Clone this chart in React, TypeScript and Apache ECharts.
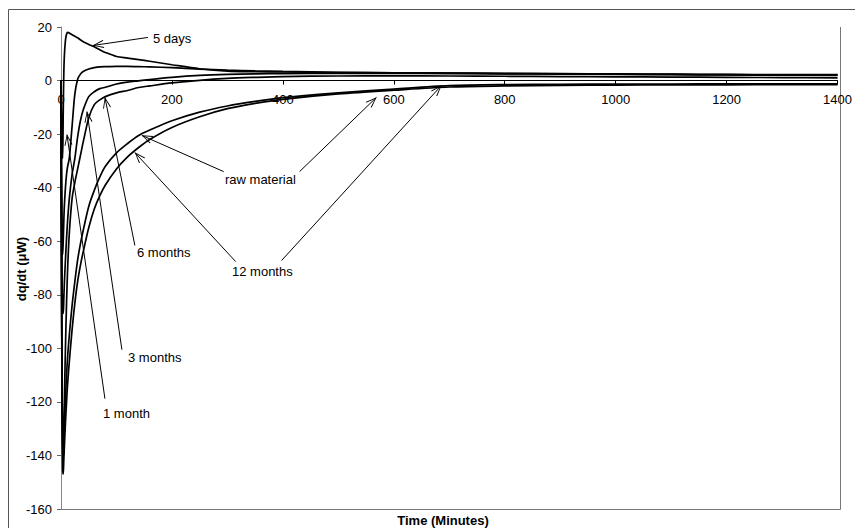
import React, { useEffect, useRef } from 'react';
import * as echarts from 'echarts';

// Time (minutes) shared by all curves
const TIME = [0, 1, 2, 3, 4, 5, 6, 8, 10, 12, 15, 20, 25, 30, 35, 40, 50, 60, 70, 80, 100, 120, 140, 160, 200, 250, 300, 350, 400, 500, 600, 700, 800, 900, 1000, 1100, 1200, 1300, 1400];

const FIVE_DAYS = [0, -15, -27, -29, -12, 2, 9, 15, 17.3, 18, 17.8, 17.1, 16.5, 16, 15.2, 14.5, 13.5, 12.6, 11.5, 10.5, 9, 8.4, 7.8, 7.2, 5.9, 4.4, 3.5, 3.3, 3.2, 3.0, 2.9, 2.8, 2.7, 2.6, 2.5, 2.4, 2.3, 2.2, 2.2];
const ONE_MONTH = [0, -40, -60, -65, -60, -53, -47, -40, -35, -32, -29, -17, -5, 0.5, 2.4, 3.4, 4.3, 4.8, 5.1, 5.2, 5.3, 5.3, 5.2, 5.1, 4.8, 4.3, 3.9, 3.6, 3.4, 3.1, 2.9, 2.8, 2.6, 2.5, 2.4, 2.3, 2.2, 2.1, 2.1];
const THREE_MONTHS = [0, -50, -78, -86, -87, -82, -76, -67, -59, -52, -44, -35, -29, -21, -15, -11, -6, -4.2, -3, -2.5, -1.3, -0.6, -0.1, 0.4, 1.2, 1.9, 2.3, 2.5, 2.6, 2.7, 2.7, 2.6, 2.5, 2.4, 2.3, 2.2, 2.1, 2.0, 1.9];
const SIX_MONTHS = [0, -70, -118, -134, -138, -130, -120, -100, -83, -70, -57, -44, -38, -33, -28, -23, -14, -9, -7.2, -6, -4.6, -3.7, -2.6, -2.0, -0.9, 0.1, 0.8, 1.2, 1.5, 1.7, 1.8, 1.7, 1.6, 1.5, 1.4, 1.3, 1.2, 1.1, 1.0];
const TWELVE_MONTHS = [0, -75, -125, -145, -147, -142, -137, -128, -120, -113, -105, -93, -83, -75, -69, -64, -55, -48, -43, -39, -33, -28.5, -25, -22, -17.5, -13.5, -10.5, -8.5, -7, -5, -3.6, -2.4, -2, -1.8, -1.7, -1.6, -1.6, -1.5, -1.5];
const RAW_MATERIAL = [0, -70, -118, -138, -141, -135, -129, -119, -110, -103, -95, -84, -75, -67, -61, -56, -47, -41, -36, -32, -27, -23.5, -20.5, -18.5, -15, -11.8, -9.5, -7.8, -6.4, -4.6, -3.2, -1.9, -1.5, -1.4, -1.3, -1.3, -1.2, -1.2, -1.2];

const SERIES_NAMES = ['5 days', '1 month', '3 months', '6 months', '12 months', 'raw material'];
const SERIES_VALUES = [FIVE_DAYS, ONE_MONTH, THREE_MONTHS, SIX_MONTHS, TWELVE_MONTHS, RAW_MATERIAL];

const X_TICKS = { min: 0, max: 1400, interval: 200 };
const Y_TICKS = { min: -160, max: 20, interval: 20 };

// Annotation arrows: [fromTime, fromValue, toTime, toValue] in data units
const ARROWS = [
  [156.6, 16.1, 57.6, 13.1],
  [79.2, -118.8, 10.8, -20.2],
  [109.8, -100.5, 46.8, -11.6],
  [133.2, -61.6, 79.2, -6.3],
  [293.3, -34.0, 145.8, -20.5],
  [430.1, -34.0, 568.6, -6.3],
  [314.9, -67.6, 133.2, -26.9],
  [397.7, -67.2, 685.6, -1.9],
];

// Annotation labels: [text, left x px, center y px]
const LABELS: [string, number, number][] = [
  ['5 days', 153, 38],
  ['raw material', 225, 179],
  ['12 months', 232, 271],
  ['6 months', 137, 252],
  ['3 months', 128, 357],
  ['1 month', 103, 413],
];

const FONT = '"Liberation Sans", Arial, sans-serif';
const CHEVRON = 'path://M5,12 L10,24 L9,24.7 L5,14.4 L1,24.7 L0,24 Z M5,0 L5.01,0.01';

const GRID = { left: 61, right: 15, top: 27, bottom: 19 };
const PLOT_H = 528 - GRID.top - GRID.bottom;

export default function App() {
  const ref = useRef<HTMLDivElement>(null);
  useEffect(() => {
    const chart = echarts.init(ref.current!, null, { renderer: 'svg' });
    const series: any[] = SERIES_VALUES.map((vals, idx) => ({
      name: SERIES_NAMES[idx],
      type: 'line',
      data: TIME.map((t, i) => [t, vals[i]]),
      showSymbol: false,
      smooth: 0.3,
      lineStyle: { color: '#000', width: 1.7 },
      z: 3,
    }));
    series[0].markLine = {
      silent: true,
      symbol: ['none', CHEVRON],
      symbolSize: [8, 22],
      animation: false,
      label: { show: false },
      lineStyle: { color: '#000', width: 1, type: 'solid' },
      data: ARROWS.map((a) => [{ coord: [a[0], a[1]] }, { coord: [a[2], a[3]] }]),
    };

    // zero line position offset from bottom of plot (axis placed at y = 0)
    const zeroOffset = -PLOT_H * (0 - Y_TICKS.min) / (Y_TICKS.max - Y_TICKS.min);

    const graphics: any[] = [
      { type: 'rect', shape: { x: 8.5, y: 9.5, width: 900, height: 600 }, style: { fill: 'none', stroke: '#555', lineWidth: 1 }, silent: true },
      { type: 'line', shape: { x1: 61, y1: 509.5, x2: 840.5, y2: 509.5 }, style: { stroke: '#777', lineWidth: 1 } },
      { type: 'line', shape: { x1: 840.5, y1: 27, x2: 840.5, y2: 509.5 }, style: { stroke: '#777', lineWidth: 1 } },
      {
        type: 'text', x: 21, y: 269, rotation: Math.PI / 2,
        style: { text: 'dq/dt (μW)', fontFamily: FONT, fontSize: 13, fontWeight: 'bold', fill: '#000', align: 'center', verticalAlign: 'middle' },
      },
      {
        type: 'text', x: 443, y: 520,
        style: { text: 'Time (Minutes)', fontFamily: FONT, fontSize: 13, fontWeight: 'bold', fill: '#000', align: 'center', verticalAlign: 'middle' },
      },
      ...LABELS.map(([text, x, y]) => ({
        type: 'text', x, y,
        style: { text, fontFamily: FONT, fontSize: 13, fill: '#000', align: 'left', verticalAlign: 'middle' },
      })),
    ];

    chart.setOption({
      animation: false,
      backgroundColor: '#fff',
      grid: { ...GRID, containLabel: false },
      xAxis: {
        type: 'value',
        position: 'bottom',
        offset: zeroOffset,
        min: X_TICKS.min, max: X_TICKS.max, interval: X_TICKS.interval,
        axisLine: { show: true, onZero: false, lineStyle: { color: '#000', width: 1 } },
        axisTick: { show: true, length: 4, lineStyle: { color: '#000' } },
        axisLabel: { color: '#000', fontFamily: FONT, fontSize: 13, margin: 12, formatter: (v: number) => String(v) },
        splitLine: { show: false },
      },
      yAxis: {
        type: 'value',
        min: Y_TICKS.min, max: Y_TICKS.max, interval: Y_TICKS.interval,
        axisLine: { show: true, onZero: false, lineStyle: { color: '#888', width: 1 } },
        axisTick: { show: true, length: 4, lineStyle: { color: '#666' } },
        axisLabel: { color: '#000', fontFamily: FONT, fontSize: 13, margin: 9 },
        splitLine: { show: false },
      },
      series,
      graphic: graphics,
    });
    return () => chart.dispose();
  }, []);
  return <div ref={ref} style={{ position: 'fixed', left: 0, top: 0, width: 855, height: 528, background: '#fff' }} />;
}
